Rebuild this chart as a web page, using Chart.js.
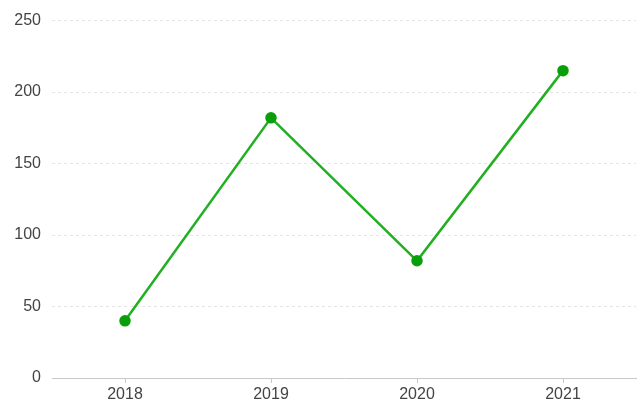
<!DOCTYPE html>
<html>
<head>
<meta charset="utf-8">
<script src="https://cdn.jsdelivr.net/npm/chart.js@4"></script>
<style>
html, body { margin: 0; padding: 0; background: #fff; }
#wrap { width: 638px; height: 403px; }
</style>
</head>
<body>
<div id="wrap"><canvas id="lineChart"></canvas></div>
<script>
const years = ['2018', '2019', '2020', '2021'];
const values = [40, 182, 82, 215];
const yTicks = [0, 50, 100, 150, 200, 250];

let ctx = document.getElementById('lineChart').getContext('2d');

let lineChart = new Chart(ctx, {
type: 'line',
data: {
labels: years,
datasets: [{
label: 'Value',
data: values,
borderColor: '#22b022',
backgroundColor: '#0a9f0a',
pointBackgroundColor: '#0a9f0a',
pointBorderColor: '#0a9f0a',
borderWidth: 2.5,
pointRadius: 4.5,
tension: 0,
fill: false
}]
},
options: {
responsive: true,
maintainAspectRatio: false,
animation: false,
layout: { autoPadding: false, padding: { top: 20, right: 2, left: 0, bottom: 0 } },
plugins: {
legend: { display: false },
tooltip: { enabled: false }
},
scales: {
x: {
offset: true,
grid: {
display: true,
offset: false,
drawOnChartArea: false,
drawTicks: true,
tickLength: 5,
color: '#c8c8c8'
},
border: { display: true, color: '#c8c8c8', width: 1 },
ticks: {
color: '#444',
font: { family: 'Liberation Sans, Arial', size: 16 },
padding: 2,
maxRotation: 0
},
afterFit: function (scale) {
scale.height = 25;
scale.paddingLeft = 0;
scale.paddingRight = 0;
}
},
y: {
min: 0,
max: 250,
afterBuildTicks: function (scale) {
scale.ticks = yTicks.map(v => ({ value: v }));
},
grid: {
color: '#e4e4e4',
drawTicks: false
},
border: { display: false, dash: [3, 3] },
ticks: {
color: '#444',
font: { family: 'Liberation Sans, Arial', size: 16 },
padding: 11
},
afterFit: function (scale) { scale.width = 52; }
}
}
}
});
</script>
</body>
</html>
